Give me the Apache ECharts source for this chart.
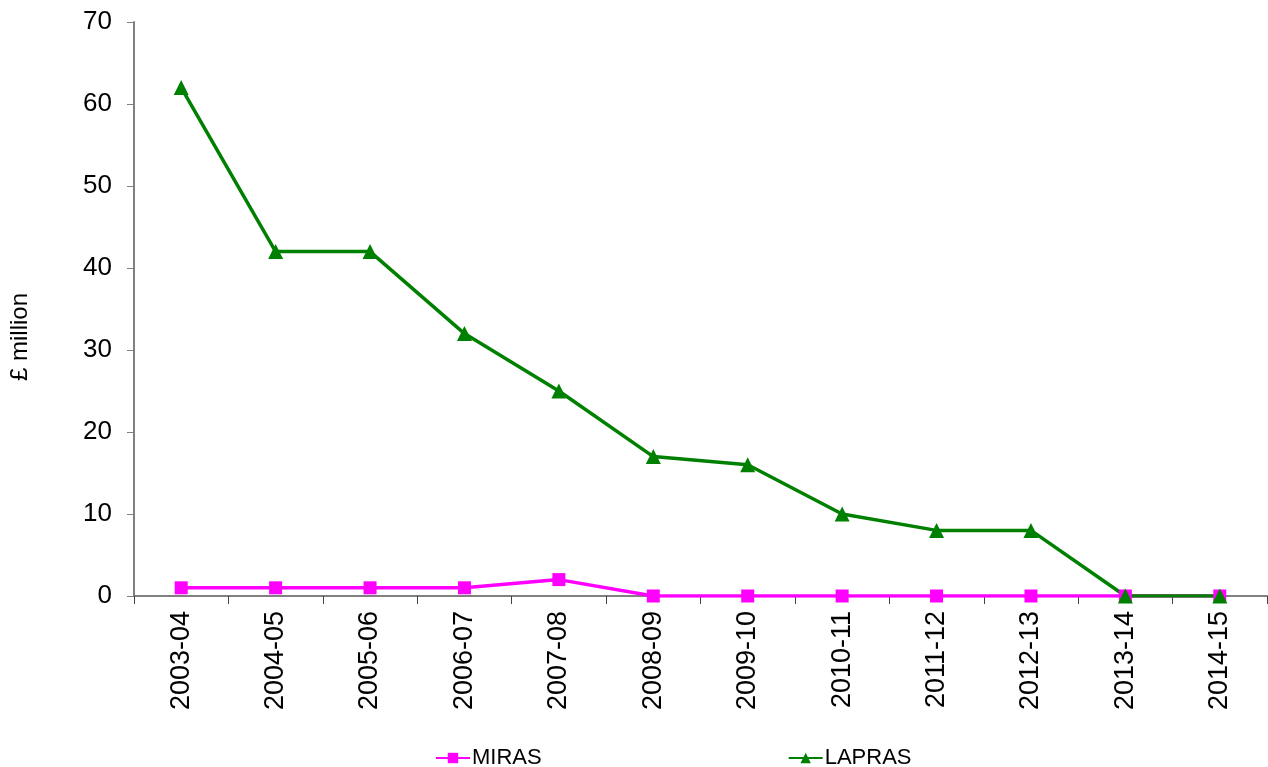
<!DOCTYPE html>
<html>
<head>
<meta charset="utf-8">
<script src="https://cdn.jsdelivr.net/npm/echarts@6/dist/echarts.min.js"></script>
<style>
  html, body { margin: 0; padding: 0; background: #fff; }
  #chart { width: 1268px; height: 767px; }
</style>
</head>
<body>
<div id="chart"></div>
<script>
// categories and values
const years = ['2003-04', '2004-05', '2005-06', '2006-07', '2007-08', '2008-09',
  '2009-10', '2010-11', '2011-12', '2012-13', '2013-14', '2014-15'];
const miras = [1, 1, 1, 1, 2, 0, 0, 0, 0, 0, 0, 0];
const lapras = [62, 42, 42, 32, 25, 17, 16, 10, 8, 8, 0, 0];

const myChart = echarts.init(document.getElementById('chart'));

const option = {
  animation: false,
  textStyle: { fontFamily: 'Liberation Sans, Arial, sans-serif' },
  grid: { left: 134, right: 1, top: 22, bottom: 171 },
  legend: {
    top: 742,
    left: 430,
    itemGap: 246,
    itemWidth: 34,
    itemHeight: 13,
    textStyle: { fontSize: 22, color: '#000', padding: [0, 0, 0, -3] },
    data: ['MIRAS', 'LAPRAS']
  },
  xAxis: {
    type: 'category',
    data: years,
    boundaryGap: true,
    axisLine: { lineStyle: { color: '#808080', width: 2 } },
    axisTick: { show: true, length: 8, lineStyle: { color: '#404040' } },
    axisLabel: { rotate: 90, fontSize: 27, color: '#000', margin: 15, interval: 0 }
  },
  yAxis: {
    type: 'value',
    min: 0,
    max: 70,
    interval: 10,
    name: '£ million',
    nameLocation: 'middle',
    nameGap: 102,
    nameRotate: 90,
    // pushed down a bit, as in the picture
    nameTextStyle: { fontSize: 24, color: '#000', padding: [0, 56, 0, 0] },
    axisLine: { show: true, lineStyle: { color: '#808080', width: 2 } },
    axisTick: { show: true, length: 7, lineStyle: { color: '#808080' } },
    axisLabel: { fontSize: 26, color: '#000', margin: 22 },
    splitLine: { show: false }
  },
  series: [
    {
      name: 'MIRAS',
      type: 'line',
      data: miras,
      symbol: 'rect',
      symbolSize: 13,
      color: '#FF00FF',
      lineStyle: { width: 3.5, color: '#FF00FF' },
      itemStyle: { color: '#FF00FF' }
    },
    {
      name: 'LAPRAS',
      type: 'line',
      data: lapras,
      symbol: 'triangle',
      symbolSize: 15,
      color: '#008000',
      lineStyle: { width: 3.5, color: '#008000' },
      itemStyle: { color: '#008000' }
    }
  ]
};

myChart.setOption(option);
</script>
</body>
</html>
